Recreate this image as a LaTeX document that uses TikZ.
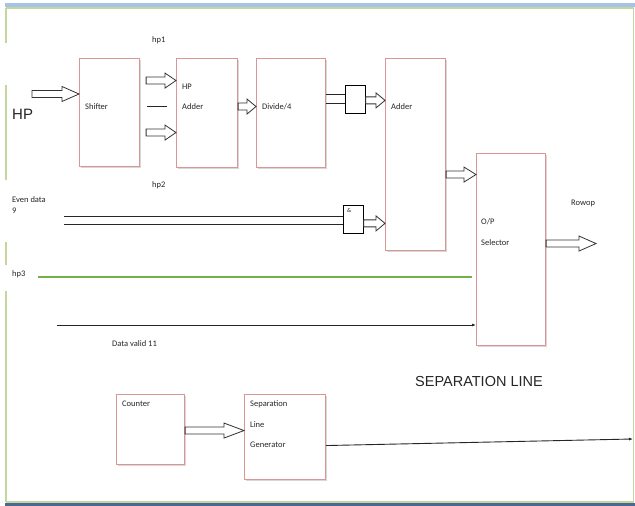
\documentclass[tikz,border=0pt]{standalone}
\usepackage{fontspec}
\setmainfont{Carlito}
\newfontfamily\arialfont{Liberation Sans}
\usetikzlibrary{calc,shadows,arrows.meta}

\definecolor{boxred}{RGB}{217,150,148}
\definecolor{wingreen}{RGB}{195,214,155}
\definecolor{winblue}{RGB}{165,194,232}
\definecolor{windark}{RGB}{74,104,148}
\definecolor{sigreen}{RGB}{118,176,75}

% hollow block arrow: y from the start point, x of the tip from the end point
\newcommand\fatarrow[3][11]{%
  \draw[fatarr] let \p1=#2, \p2=#3 in
    (\x1,\y1+3.5pt) -- (\x2-#1pt,\y1+3.5pt) -- (\x2-#1pt,\y1+7.5pt)
    -- (\x2,\y1) -- (\x2-#1pt,\y1-7.5pt) -- (\x2-#1pt,\y1-3.5pt)
    -- (\x1,\y1-3.5pt) -- cycle;}

\begin{document}
\begin{tikzpicture}[x=1pt,y=1pt,
  blk/.style 2 args={draw=boxred,line width=1.1pt,fill=white,inner sep=0,
    minimum width=#1pt,minimum height=#2pt,anchor=north west,
    drop shadow={shadow xshift=1.2pt,shadow yshift=-1.2pt,opacity=.3}},
  gate/.style={draw,line width=.8pt,fill=white,inner sep=0,
    minimum width=20pt,minimum height=28pt,anchor=north west},
  txt/.style={font=\fontsize{8.5}{9}\selectfont,text=black!85,inner sep=0,anchor=west},
  fatarr/.style={draw=black!80,fill=white,line width=.8pt,line join=miter},
  wire/.style={draw=black!85,line width=.9pt}]
\fill[white] (0,0) rectangle (635,506);
\useasboundingbox (0,0) rectangle (635,506);

% window frame
\fill[winblue] (5,499) rectangle (635,502.5);
\fill[windark] (5,0) rectangle (635,3.3);
\draw[wingreen,line width=1.2pt] (6,498) -- (634,498) (633.5,498) -- (633.5,4) (6,4) -- (634,4);
\foreach \a/\b in {498/463,421/326,264/241,215/4}
  \draw[wingreen,line width=1.5pt] (6,\a) -- (6,\b);

% blocks
\node[blk={60}{108}] (shifter) at (79,448) {};
\node[blk={61}{109}] (hpadd) at (176,448) {};
\node[blk={69}{109}] (divide) at (256,448) {};
\node[blk={60}{192}] (adder) at (385,448) {};
\node[blk={69}{192}] (opsel) at (476,353) {};
\node[blk={68}{70}] (counter) at (116,112) {};
\node[blk={81}{85}] (sepgen) at (244,112) {};
\node[gate] (gate1) at (345,421) {};
\node[gate] (gate2) at (343,301) {};

% texts
\node[txt] (thp1) at (152,466) {hp1};
\node[txt,font=\arialfont\fontsize{15}{15}\selectfont] (thp) at (12,392) {HP};
\node[txt] (tshift) at (85,399) {Shifter};
\node[txt] (thpa) at (182,419) {HP};
\node[txt] (tadd) at (182,399) {Adder};
\node[txt] (tdiv) at (262,399) {Divide/4};
\node[txt] (tadd2) at (391,399) {Adder};
\node[txt] (thp2) at (152,321) {hp2};
\node[txt] (teven) at (12,306) {Even data};
\node[txt] (tnine) at (12,295) {9};
\node[txt] (thp3) at (12,232) {hp3};
\node[txt] (tvalid) at (112,162) {Data valid 11};
\node[txt] (top) at (481,284) {O/P};
\node[txt] (tsel) at (481,263) {Selector};
\node[txt] (trow) at (571,303) {Rowop};
\node[txt,font=\arialfont\fontsize{14.5}{15}\selectfont] (tsep) at (415,124) {SEPARATION LINE};
\node[txt] (tcount) at (122,102) {Counter};
\node[txt] (tsepa) at (250,102) {Separation};
\node[txt] (tline) at (250,81) {Line};
\node[txt] (tgen) at (250,61) {Generator};
\node[txt,font=\fontsize{6}{6}\selectfont] (tand) at (347,296) {\&};

% free ends
\coordinate (hpin) at (32,412);
\coordinate (ev1) at (64,290);
\coordinate (ev2) at (64,282);
\coordinate (hp3) at (38,229);
\coordinate (dv) at (57,181);
\coordinate (rowend) at (596,263);
\coordinate (sepend) at (633,67);
\coordinate (g1a) at ($(gate1.west)+(0,5)$);
\coordinate (g1b) at ($(gate1.west)+(0,-4)$);

% connectors
\fatarrow[17]{(hpin)}{(shifter.west)}
\fatarrow{($(shifter.east)+(6,32)$)}{(hpadd.west)}
\fatarrow{($(shifter.east)+(6,-20)$)}{(hpadd.west)}
\draw[wire] ($(shifter.east)+(7,6)$) -- +(20,0);
\fatarrow[9]{($(hpadd.east)+(0,6.5)$)}{(divide.west)}
\draw[wire] (g1a) -- (g1a -| divide.east);
\draw[wire] (g1b) -- (g1b -| divide.east);
\fatarrow[9]{($(gate1.east)+(0,-1)$)}{(adder.west)}
\draw[wire] (ev1) -- (ev1 -| gate2.west);
\draw[wire] (ev2) -- (ev2 -| gate2.west);
\fatarrow[9]{($(gate2.east)+(0,-4)$)}{(adder.west)}
\fatarrow[12]{($(adder.east)+(0,-20)$)}{(opsel.west)}
\draw[sigreen,line width=2.2pt] (hp3) -- ($(hp3 -| opsel.west)+(-4,0)$);
\draw[wire,-{Latex[length=4pt,width=3pt]}] (dv) -- (dv -| opsel.west);
\fatarrow[17]{($(opsel.east)+(0,6)$)}{(rowend)}
\fatarrow[20]{($(counter.east)+(0,-1)$)}{(sepgen.west)}
\draw[wire,-{Latex[length=4pt,width=3pt]}] ($(sepgen.east)+(0,-8.5)$) -- (sepend);
\end{tikzpicture}
\end{document}
